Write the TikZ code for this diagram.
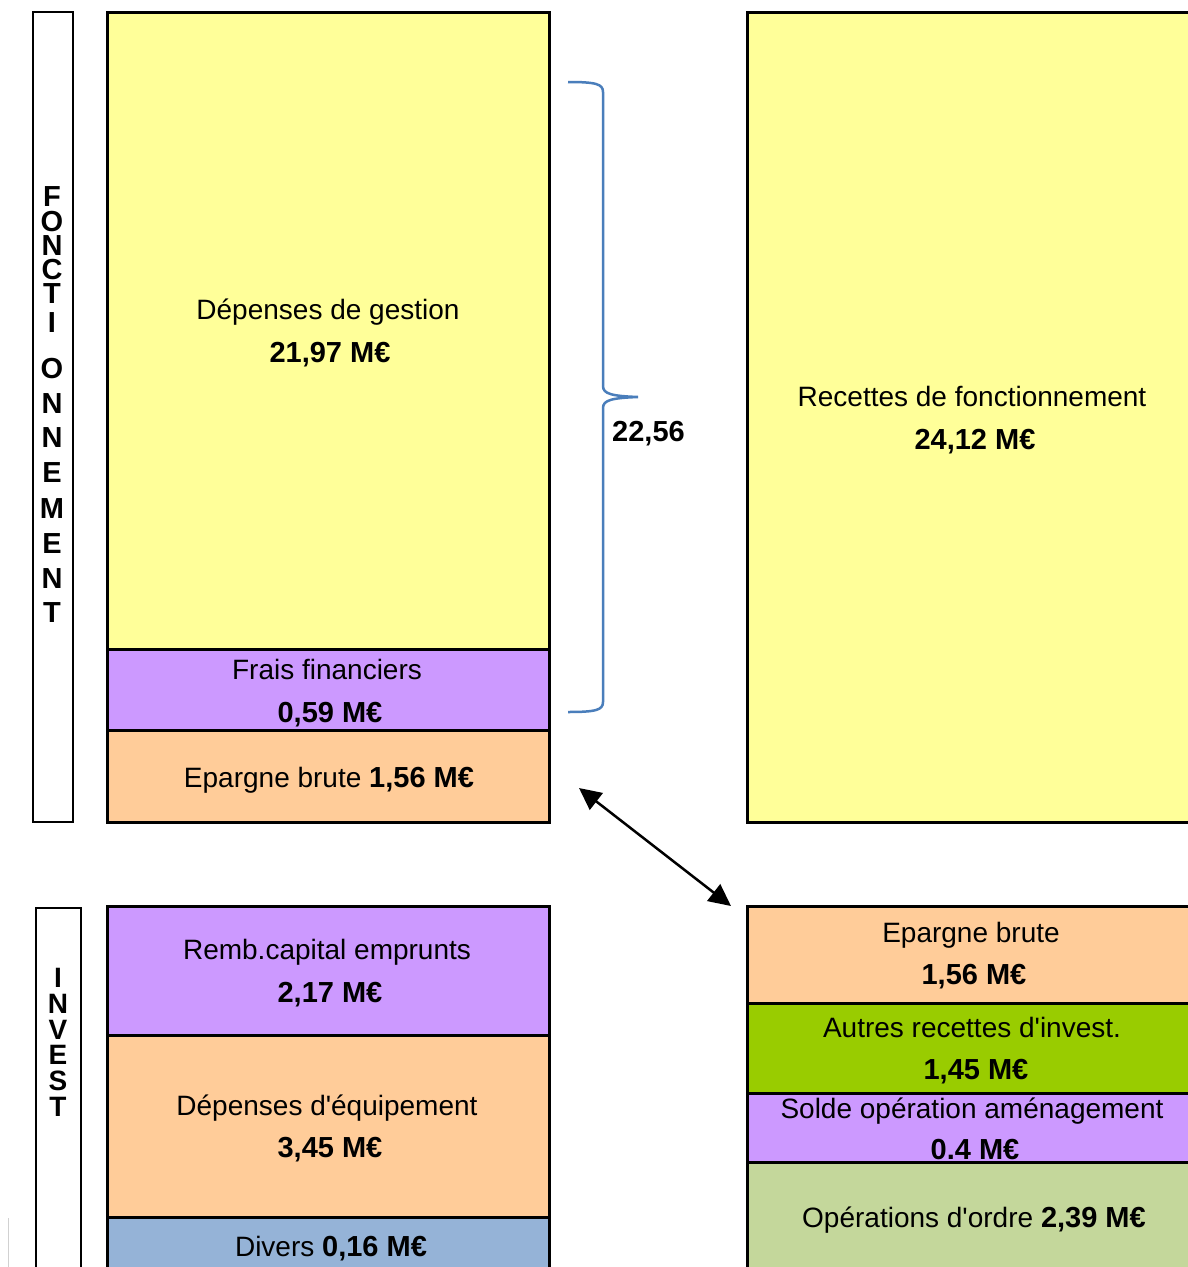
\documentclass[tikz,border=0pt]{standalone}
\usepackage{fontspec}
\setmainfont{Liberation Sans}[Ligatures=TeXOff]
\usetikzlibrary{arrows.meta}
\definecolor{yel}{HTML}{FFFF99}
\definecolor{pur}{HTML}{CC99FF}
\definecolor{ora}{HTML}{FFCC99}
\definecolor{blu}{HTML}{95B3D7}
\definecolor{grn}{HTML}{99CC00}
\definecolor{lgr}{HTML}{C4D79B}
\definecolor{brc}{HTML}{4A7EBB}
\begin{document}
\begin{tikzpicture}[x=1pt,y=-1pt,
  blk/.style={draw=black, line width=3pt, rectangle, inner sep=0pt},
  lab/.style={draw=black, line width=2.5pt, fill=white, rectangle, inner sep=0pt},
  txt/.style={font=\fontsize{28}{34}\selectfont, inner sep=0pt, anchor=base},
  val/.style={font=\fontsize{29}{34}\selectfont\bfseries, inner sep=0pt, anchor=base},
  ltrF/.style={font=\fontsize{29}{29}\selectfont\bfseries, inner sep=0pt},
  ltrI/.style={font=\fontsize{28}{28}\selectfont\bfseries, inner sep=0pt}]
\useasboundingbox (0,0) rectangle (1188,1267);
\clip (0,0) rectangle (1188,1267);
\fill[white] (0,0) rectangle (1188,1267);

% side labels
\node[lab, minimum width=40pt, minimum height=810pt] (labF) at (53,417) {};
\foreach \l/\y [count=\i] in {F/197,O/222,N/246,C/270,T/294,I/323,O/369,N/404,N/438,E/473,M/509,E/544,N/579,T/613}
  \node[ltrF] (f\i) at (52,\y) {\l};
\node[lab, minimum width=45pt, minimum height=372pt] (labI) at (58.5,1094) {};
\foreach \l/\y [count=\i] in {I/978,N/1004,V/1030,E/1055,S/1081,T/1107}
  \node[ltrI] (v\i) at (58,\y) {\l};

% fonctionnement - depenses
\node[blk, fill=yel, minimum width=442pt, minimum height=637pt] (dg) at (328,330.5) {};
\node[txt] (dgt) at (328,319) {Dépenses de gestion};
\node[val] (dgv) at (330,362) {21,97 M€};
\node[blk, fill=pur, minimum width=442pt, minimum height=81pt] (ff) at (328,689.5) {};
\node[txt] (fft) at (327,679) {Frais financiers};
\node[val] (ffv) at (330,722) {0,59 M€};
\node[blk, fill=ora, minimum width=442pt, minimum height=92pt] (eb) at (328,776) {};
\node[txt] (ebt) at (329,787) {Epargne brute {\fontsize{29}{34}\selectfont\bfseries 1,56 M€}};

% fonctionnement - recettes
\node[blk, fill=yel, minimum width=450pt, minimum height=810pt] (rf) at (972,417) {};
\node[txt] (rft) at (972,406) {Recettes de fonctionnement};
\node[val] (rfv) at (975,449) {24,12 M€};

% investissement - depenses
\node[blk, fill=pur, minimum width=442pt, minimum height=129pt] (rc) at (328,970.5) {};
\node[txt] (rct) at (327,959) {Remb.capital emprunts};
\node[val] (rcv) at (330,1002) {2,17 M€};
\node[blk, fill=ora, minimum width=442pt, minimum height=182pt] (de) at (328,1126) {};
\node[txt] (det) at (327,1115) {Dépenses d'équipement};
\node[val] (dev) at (330,1157) {3,45 M€};
\node[blk, fill=blu, minimum width=442pt, minimum height=56pt] (dv) at (328,1245) {};
\node[txt] (dvt) at (331,1256) {Divers {\fontsize{29}{34}\selectfont\bfseries 0,16 M€}};

% investissement - recettes
\node[blk, fill=ora, minimum width=450pt, minimum height=97pt] (eb2) at (972,954.5) {};
\node[txt] (eb2t) at (971,942) {Epargne brute};
\node[val] (eb2v) at (974,984) {1,56 M€};
\node[blk, fill=grn, minimum width=450pt, minimum height=90pt] (ar) at (972,1048) {};
\node[txt] (art) at (972,1037) {Autres recettes d'invest.};
\node[val] (arv) at (976,1079) {1,45 M€};
\node[blk, fill=pur, minimum width=450pt, minimum height=69pt] (so) at (972,1127.5) {};
\node[txt] (sot) at (972,1118) {Solde opération aménagement};
\node[val] (sov) at (975,1159) {0.4 M€};
\node[blk, fill=lgr, minimum width=450pt, minimum height=108pt] (od) at (972,1216) {};
\node[txt] (odt) at (974,1227) {Opérations d'ordre {\fontsize{29}{34}\selectfont\bfseries 2,39 M€}};

% brace
\coordinate (bt) at (568,82);
\coordinate (bm) at (638,397);
\coordinate (bb) at (568,712);
\draw[brc, line width=2.5pt] (bt) .. controls (596,82) and (603,84) .. (603,92)
  -- (603,386) .. controls (603,394) and (612,396) .. (bm)
  .. controls (612,398) and (603,400) .. (603,408)
  -- (603,702) .. controls (603,710) and (596,712) .. (bb);
\node[val, anchor=base west] (tot) at (612,441) {22,56};

% arrow
\coordinate (a1) at (579,788);
\coordinate (a2) at (731,906);
\draw[line width=2.5pt, {Triangle[length=22pt,width=21pt]}-{Triangle[length=22pt,width=21pt]}] (a1) -- (a2);

% faint edge mark
\coordinate (g1) at (8.5,1218);
\coordinate (g2) at (8.5,1267);
\draw[black!18, line width=1.5pt] (g1) -- (g2);
\end{tikzpicture}
\end{document}
